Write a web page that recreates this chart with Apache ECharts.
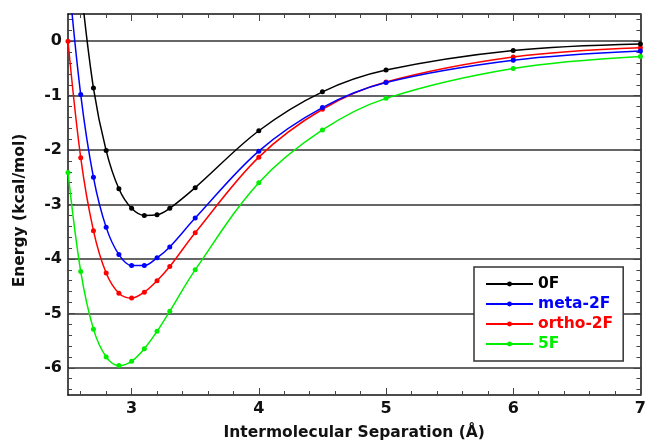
<!DOCTYPE html>
<html>
<head>
<meta charset="utf-8">
<script src="https://cdn.jsdelivr.net/npm/echarts@6/dist/echarts.min.js"></script>
<style>
html,body{margin:0;padding:0;background:#fff;}
#chart{width:649px;height:446px;}
</style>
</head>
<body>
<div id="chart"></div>
<script>
// Separation (Å)
var separation = [2.5, 2.6, 2.7, 2.8, 2.9, 3.0, 3.1, 3.2, 3.3, 3.5, 4.0, 4.5, 5.0, 6.0, 7.0];
// Energies (kcal/mol)
var e0F      = [null, 1.05, -0.86, -2.01, -2.71, -3.07, -3.20, -3.19, -3.07, -2.69, -1.645, -0.93, -0.53, -0.17, -0.05];
var eMeta2F  = [1.3, -0.98, -2.50, -3.42, -3.92, -4.12, -4.12, -3.98, -3.78, -3.25, -2.02, -1.22, -0.76, -0.35, -0.18];
var eOrtho2F = [0.0, -2.14, -3.48, -4.26, -4.63, -4.72, -4.61, -4.40, -4.14, -3.52, -2.13, -1.25, -0.75, -0.29, -0.12];
var e5F      = [-2.41, -4.23, -5.29, -5.80, -5.96, -5.88, -5.65, -5.33, -4.96, -4.20, -2.60, -1.63, -1.05, -0.50, -0.28];

var seriesNames = ['0F', 'meta-2F', 'ortho-2F', '5F'];
var seriesColors = ['#000000', '#0000ff', '#ff0000', '#00ee00'];
var seriesValues = [e0F, eMeta2F, eOrtho2F, e5F];

var xMajorTicks = [3, 4, 5, 6, 7];
var yMajorTicks = [-6, -5, -4, -3, -2, -1, 0];

var xMin = 2.5, xMax = 7, yMin = -6.5, yMax = 0.5;

function minorTicks(lo, hi, step, majors) {
  var out = [];
  var n = Math.round((hi - lo) / step);
  for (var i = 0; i <= n; i++) {
    var v = Math.round((lo + i * step) * 1000) / 1000;
    if (majors.indexOf(v) < 0) out.push(v);
  }
  return out;
}
var xMinorTicks = minorTicks(2.6, 6.8, 0.2, xMajorTicks);
var yMinorTicks = minorTicks(-6.4, 0.4, 0.2, yMajorTicks);

var FONT = 'DejaVu Sans';
var axisColor = '#111';

function xAxisDef(pos, ticks, len, showLine, showLabel) {
  return {
    type: 'value', position: pos, min: xMin, max: xMax,
    axisLine: {show: showLine, onZero: false, lineStyle: {color: axisColor, width: 1.5}},
    axisTick: {show: true, inside: true, length: len, customValues: ticks, lineStyle: {color: '#444', width: 1}},
    axisLabel: showLabel ? {show: true, customValues: xMajorTicks, margin: 6, color: '#111',
      fontFamily: FONT, fontWeight: 'bold', fontSize: 16} : {show: false},
    splitLine: {show: false}
  };
}
function yAxisDef(pos, ticks, len, showLine, showLabel, showSplit) {
  return {
    type: 'value', position: pos, min: yMin, max: yMax,
    axisLine: {show: showLine, onZero: false, lineStyle: {color: axisColor, width: 1.5}},
    axisTick: {show: true, inside: true, length: len, customValues: ticks, lineStyle: {color: '#444', width: 1}},
    axisLabel: showLabel ? {show: true, customValues: yMajorTicks, margin: 6, color: '#111',
      fontFamily: FONT, fontWeight: 'bold', fontSize: 16} : {show: false},
    splitLine: {show: showSplit, lineStyle: {color: '#333', width: 1.5}}
  };
}

var xAxes = [
  xAxisDef('bottom', xMajorTicks, 7, true, true),
  xAxisDef('bottom', xMinorTicks, 4, false, false),
  xAxisDef('top', xMajorTicks, 7, true, false),
  xAxisDef('top', xMinorTicks, 4, false, false)
];
xAxes[0].name = 'Intermolecular Separation (Å)';
xAxes[0].nameLocation = 'middle';
xAxes[0].nameGap = 30;
xAxes[0].nameTextStyle = {fontFamily: FONT, fontWeight: 'bold', fontSize: 15.5, color: '#111'};

var yAxes = [
  yAxisDef('left', yMajorTicks, 7, true, true, true),
  yAxisDef('left', yMinorTicks, 4, false, false, false),
  yAxisDef('right', yMajorTicks, 7, true, false, false),
  yAxisDef('right', yMinorTicks, 4, false, false, false)
];
yAxes[0].name = 'Energy (kcal/mol)';
yAxes[0].nameLocation = 'middle';
yAxes[0].nameGap = 40;
yAxes[0].nameTextStyle = {fontFamily: FONT, fontWeight: 'bold', fontSize: 15.5, color: '#111', padding: [0, 12, 0, 0]};

var series = seriesNames.map(function (name, k) {
  var vals = seriesValues[k];
  var data = separation.map(function (x, i) { return [x, vals[i]]; });
  return {
    name: name, type: 'line', xAxisIndex: 0, yAxisIndex: 0,
    data: data, smooth: 0.35, connectNulls: false,
    symbol: 'circle', symbolSize: 5, clip: true,
    lineStyle: {color: seriesColors[k], width: 1.5},
    itemStyle: {color: seriesColors[k]},
    z: 10 - k
  };
});

var chart = echarts.init(document.getElementById('chart'), null, {renderer: 'canvas'});
chart.setOption({
  animation: false,
  backgroundColor: '#fff',
  grid: {left: 68, right: 2, top: 14, bottom: 48, containLabel: false},
  xAxis: xAxes,
  yAxis: yAxes,
  legend: {
    orient: 'vertical', left: 474, top: 267,
    padding: [9, 10, 9, 11],
    backgroundColor: '#fff', borderColor: '#333', borderWidth: 1.5,
    itemWidth: 47, itemHeight: 6, itemGap: 4,
    data: seriesNames.map(function (n, k) {
      return {name: n, textStyle: {color: seriesColors[k]}};
    }),
    textStyle: {fontFamily: FONT, fontWeight: 'bold', fontSize: 15.5, lineHeight: 16}
  },
  series: series
});
</script>
</body>
</html>
